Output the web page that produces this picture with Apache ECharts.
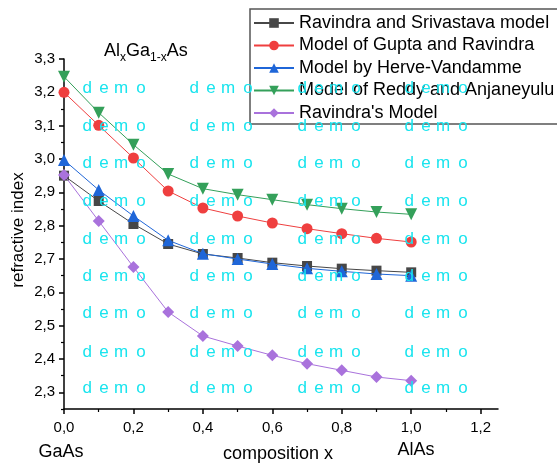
<!DOCTYPE html>
<html>
<head>
<meta charset="utf-8">
<script src="https://cdn.jsdelivr.net/npm/echarts@6/dist/echarts.min.js"></script>
<style>
  html, body { margin: 0; padding: 0; background: #fff; }
  #chart { width: 557px; height: 463px; }
</style>
</head>
<body>
<div id="chart"></div>
<script>
// Composition x of AlxGa1-xAs
const composition = [0, 0.1, 0.2, 0.3, 0.4, 0.5, 0.6, 0.7, 0.8, 0.9, 1.0];

// Refractive index predicted by each model
const ravindraSrivastava = [2.95, 2.874, 2.805, 2.745, 2.715, 2.703, 2.689, 2.679, 2.671, 2.665, 2.660];
const guptaRavindra      = [3.20, 3.101, 3.003, 2.904, 2.853, 2.829, 2.808, 2.791, 2.776, 2.762, 2.751];
const herveVandamme      = [2.997, 2.907, 2.829, 2.756, 2.716, 2.700, 2.685, 2.672, 2.663, 2.655, 2.650];
const reddyAnjaneyulu    = [3.247, 3.139, 3.043, 2.955, 2.911, 2.893, 2.878, 2.863, 2.851, 2.841, 2.834];
const ravindraModel      = [2.952, 2.814, 2.676, 2.541, 2.469, 2.439, 2.411, 2.386, 2.366, 2.346, 2.335];

const seriesNames = [
  'Ravindra and Srivastava model',
  'Model of Gupta and Ravindra',
  'Model by Herve-Vandamme',
  'Model of Reddy and Anjaneyulu',
  "Ravindra's Model"
];

// Tick positions
const xMajorTicks = [0, 0.2, 0.4, 0.6, 0.8, 1.0, 1.2];
const xMinorTicks = [0.1, 0.3, 0.5, 0.7, 0.9, 1.1];
const yMajorTicks = [2.3, 2.4, 2.5, 2.6, 2.7, 2.8, 2.9, 3.0, 3.1, 3.2, 3.3];
const yMinorTicks = [2.25, 2.35, 2.45, 2.55, 2.65, 2.75, 2.85, 2.95, 3.05, 3.15, 3.25];

// Title pieces: [text, isSubscript]
const titleParts = [['Al', false], ['x', true], ['Ga', false], ['1-x', true], ['As', false]];

const FONT = 'Liberation Sans, Arial, sans-serif';
const fmt = v => Number(v).toFixed(1).replace('.', ',');

const styles = [
  { color: '#474747', symbol: 'rect', size: 10 },
  { color: '#ef3f3f', symbol: 'circle', size: 11 },
  { color: '#1f66d8', symbol: 'triangle', size: 12 },
  { color: '#34a05a', symbol: 'path://M0,0 L10,0 L5,9 Z', size: 12 },
  { color: '#a972dc', symbol: 'diamond', size: 12 }
];
const seriesData = [ravindraSrivastava, guptaRavindra, herveVandamme, reddyAnjaneyulu, ravindraModel];

// "demo" watermark grid, letters spaced out individually
const wmColumns = [83, 190, 298, 405];
const wmRows = [88, 126, 163, 201, 239, 276, 313, 352, 388];
const wmLetters = ['d', 'e', 'm', 'o'];
const wmOffsets = [-0.5, 16.2, 31, 53.3];
const watermark = [];
wmRows.forEach(y => wmColumns.forEach(x => {
  wmLetters.forEach((ch, k) => {
    watermark.push({
      type: 'text', x: x + wmOffsets[k], y: y, z: 100, silent: true,
      style: { text: ch, fill: '#19e4ee', font: '17px ' + FONT, verticalAlign: 'middle', align: 'left' }
    });
  });
}));

// Lay out the title with measured widths so subscripts sit below the baseline
const measureCtx = document.createElement('canvas').getContext('2d');
const titleItems = [];
let tx = 104;
titleParts.forEach(([txt, sub]) => {
  const font = (sub ? '12px ' : '18px ') + FONT;
  measureCtx.font = font;
  titleItems.push({
    type: 'text', x: tx, y: sub ? 58 : 51.5, silent: true,
    style: { text: txt, fill: '#000', font: font, align: 'left', verticalAlign: 'middle' }
  });
  tx += measureCtx.measureText(txt).width;
});

const chart = echarts.init(document.getElementById('chart'), null, { renderer: 'canvas' });

const axisBase = {
  axisLine: { show: true, lineStyle: { color: '#000', width: 1.5 } },
  splitLine: { show: false }
};

chart.setOption({
  animation: false,
  backgroundColor: '#fff',
  grid: { left: 64, right: 59, top: 59, bottom: 54, containLabel: false },
  xAxis: [
    Object.assign({}, axisBase, {
      type: 'value', min: 0, max: 1.25, position: 'bottom',
      axisTick: { show: true, inside: false, length: 5, lineStyle: { color: '#000', width: 1.5 }, customValues: xMajorTicks },
      axisLabel: { customValues: xMajorTicks, formatter: fmt, color: '#000', fontSize: 15, fontFamily: FONT, margin: 11 }
    }),
    {
      type: 'value', min: 0, max: 1.25, position: 'bottom', offset: 0,
      axisLine: { show: false },
      splitLine: { show: false },
      axisTick: { show: true, inside: false, length: 3, lineStyle: { color: '#000', width: 1.2 }, customValues: xMinorTicks },
      axisLabel: { show: false }
    }
  ],
  yAxis: [
    Object.assign({}, axisBase, {
      type: 'value', min: 2.25, max: 3.3, position: 'left',
      axisTick: { show: true, inside: false, length: 5, lineStyle: { color: '#000', width: 1.5 }, customValues: yMajorTicks },
      axisLabel: { customValues: yMajorTicks, formatter: fmt, color: '#000', fontSize: 15, fontFamily: FONT, margin: 9 }
    }),
    {
      type: 'value', min: 2.25, max: 3.3, position: 'left', offset: 0,
      axisLine: { show: false },
      splitLine: { show: false },
      axisTick: { show: true, inside: false, length: 3, lineStyle: { color: '#000', width: 1.2 }, customValues: yMinorTicks },
      axisLabel: { show: false }
    }
  ],
  legend: {
    orient: 'vertical', left: 253, top: 14, padding: 0,
    itemWidth: 40, itemHeight: 12, itemGap: 4.5,
    textStyle: { color: '#000', fontSize: 18, fontFamily: FONT },
    data: seriesNames
  },
  series: seriesNames.map((name, i) => ({
    name: name,
    type: 'line',
    xAxisIndex: 0, yAxisIndex: 0,
    data: composition.map((x, k) => [x, seriesData[i][k]]),
    symbol: styles[i].symbol,
    symbolSize: styles[i].size,
    showAllSymbol: true,
    lineStyle: { color: styles[i].color, width: 1 },
    itemStyle: { color: styles[i].color },
    z: 2 + i
  })),
  graphic: [
    {
      type: 'rect', z: 50, silent: true,
      shape: { x: 250, y: 9, width: 320, height: 115 },
      style: { fill: 'none', stroke: '#555', lineWidth: 1.5 }
    },
    {
      type: 'text', x: 18, y: 230, rotation: Math.PI / 2, silent: true,
      style: { text: 'refractive index', fill: '#000', font: '17px ' + FONT, align: 'center', verticalAlign: 'middle' }
    },
    {
      type: 'text', x: 278, y: 454, silent: true,
      style: { text: 'composition x', fill: '#000', font: '18px ' + FONT, align: 'center', verticalAlign: 'middle' }
    },
    {
      type: 'text', x: 61, y: 452, silent: true,
      style: { text: 'GaAs', fill: '#000', font: '18px ' + FONT, align: 'center', verticalAlign: 'middle' }
    },
    {
      type: 'text', x: 416, y: 450, silent: true,
      style: { text: 'AlAs', fill: '#000', font: '18px ' + FONT, align: 'center', verticalAlign: 'middle' }
    }
  ].concat(titleItems, watermark)
});
</script>
</body>
</html>
